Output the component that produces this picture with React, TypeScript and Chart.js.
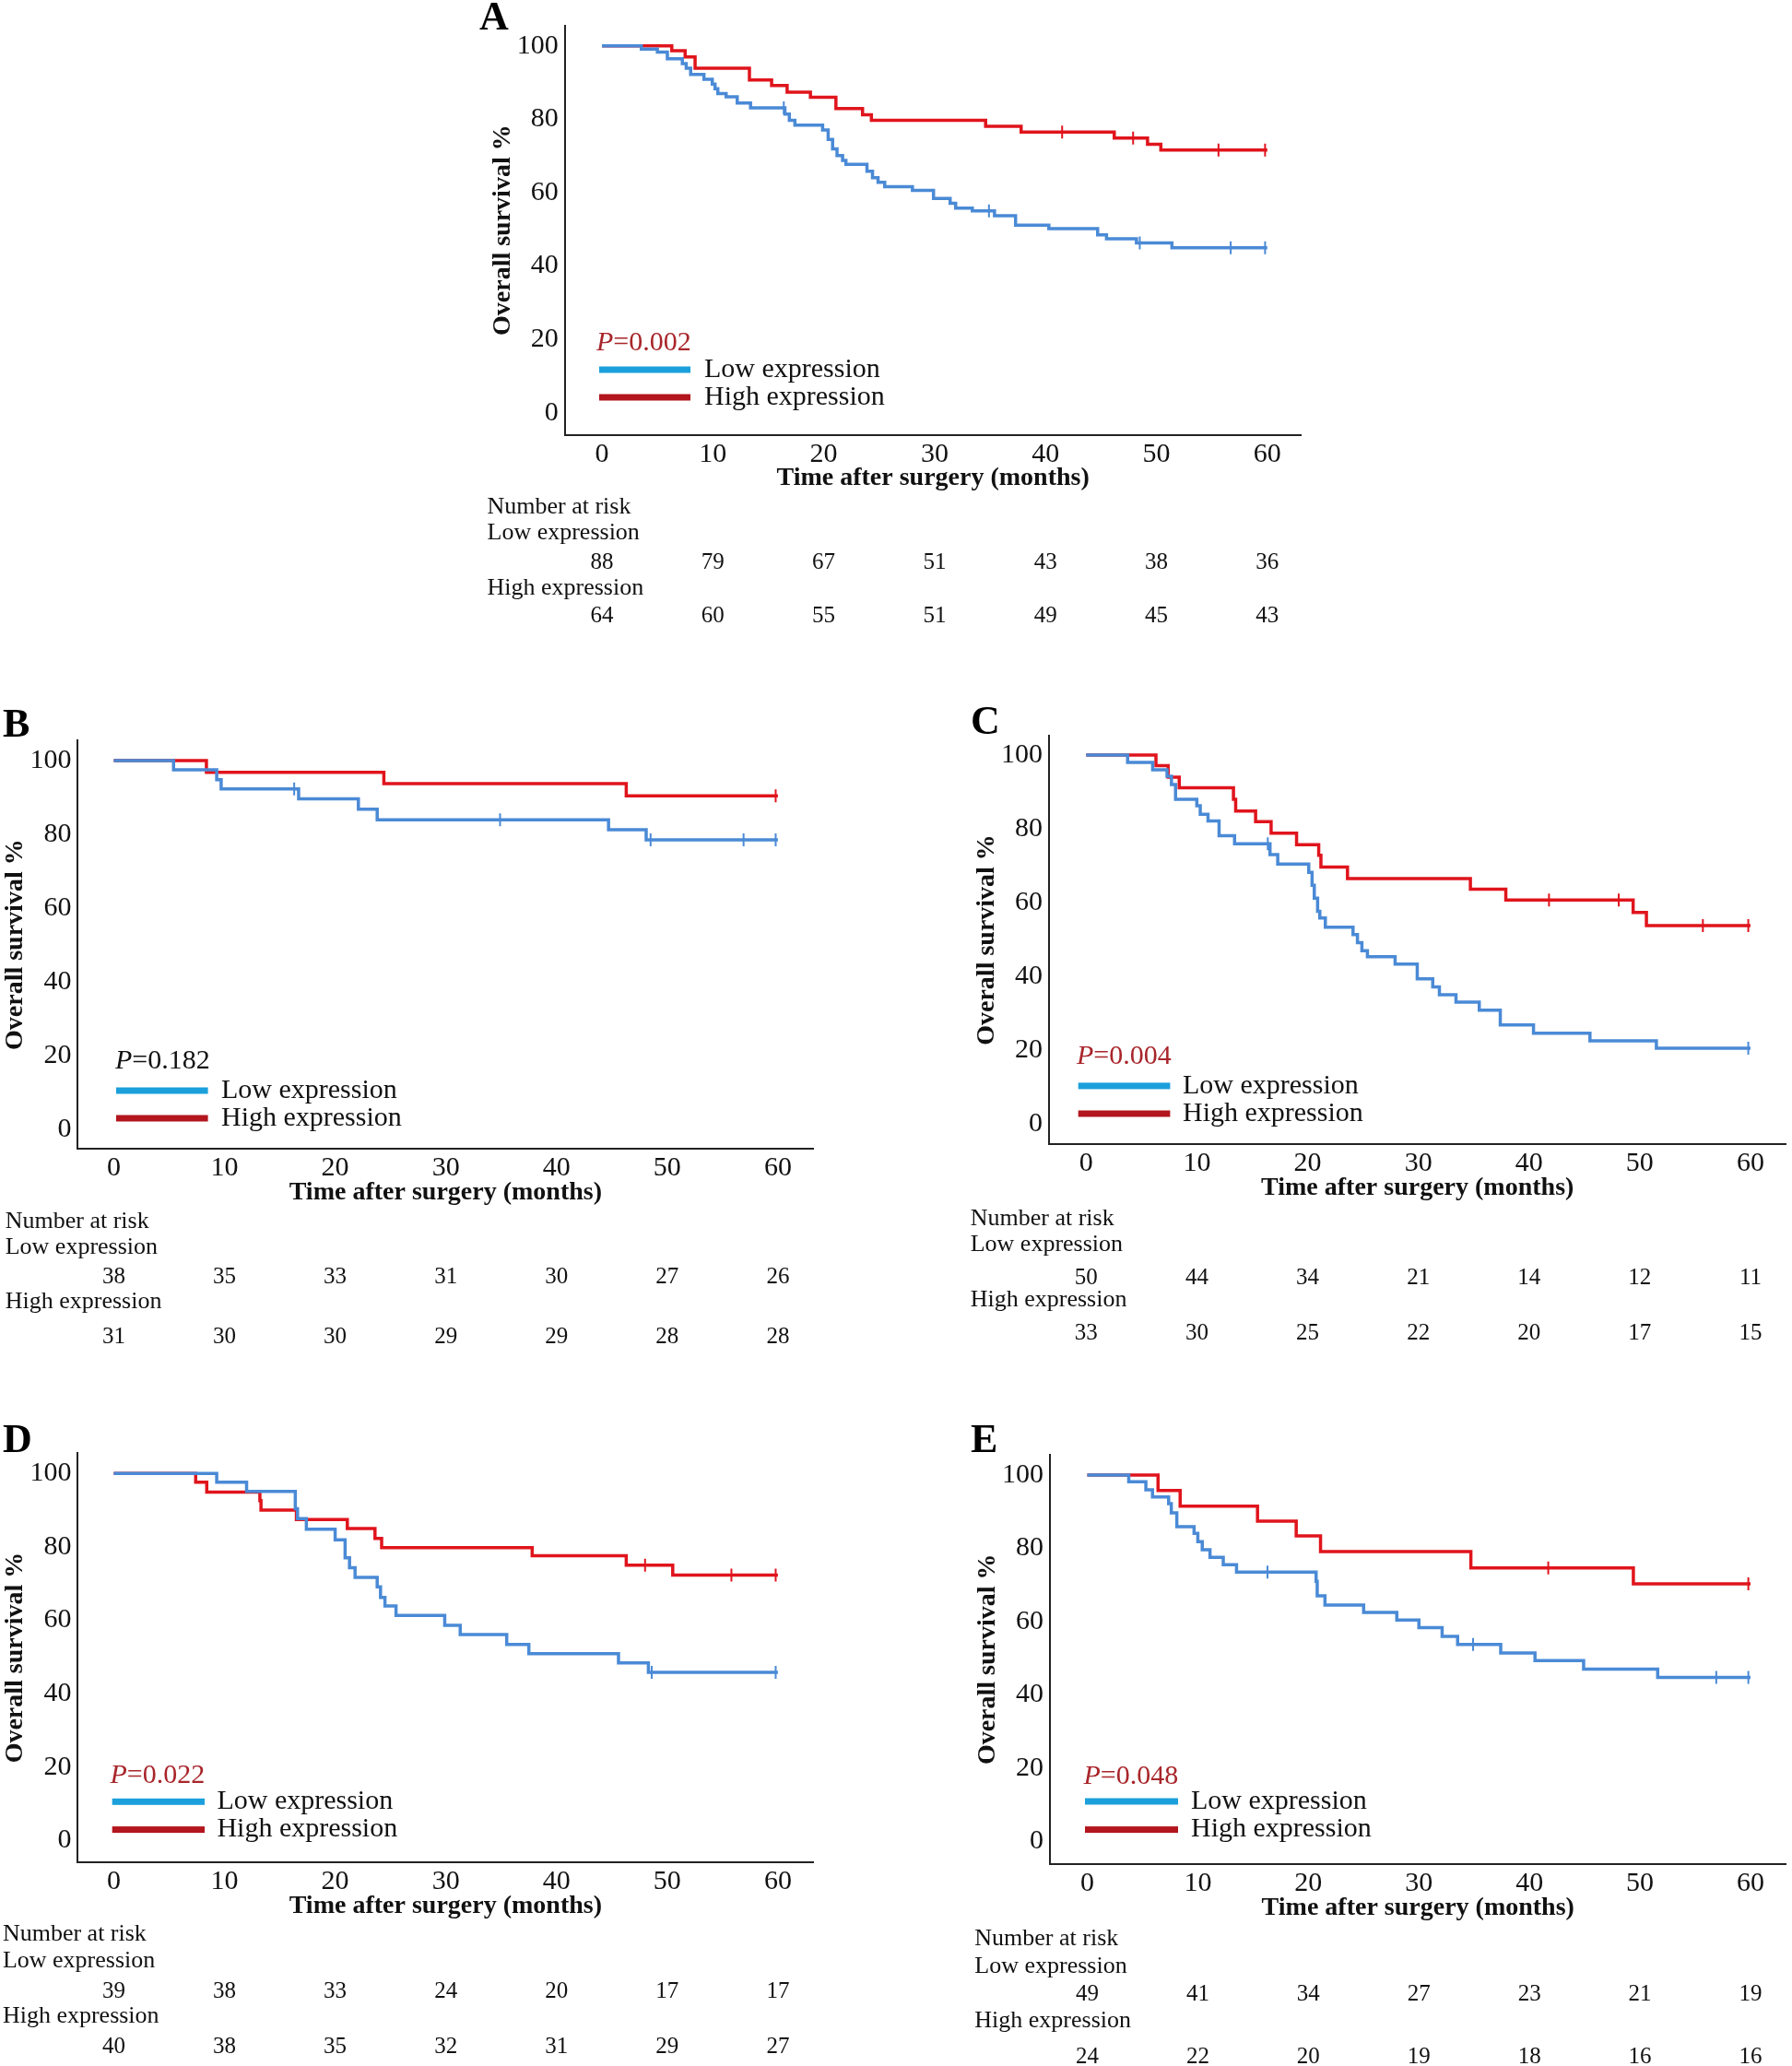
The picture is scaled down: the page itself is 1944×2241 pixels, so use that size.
import React, { useEffect, useRef } from "react";
import { Chart, registerables } from "chart.js";

Chart.register(...registerables);

type Pt = [number, number];

// ---------- shared axis values ----------
const X_TICKS = [0, 10, 20, 30, 40, 50, 60];
const Y_TICKS = [0, 20, 40, 60, 80, 100];
const SERIES_LABELS = ["Low expression", "High expression"];
const X_TITLE = "Time after surgery (months)";
const Y_TITLE = "Overall survival %";

// ---------- Panel A ----------
const A_LOW: Pt[] = [[0,100],[3.55,99.1],[5.0,98.3],[5.9,96.5],[7.25,95.2],[7.6,93.9],[8.0,92.2],[9.2,90.9],[9.95,89.6],[10.2,88.3],[10.45,87.0],[11.2,86.1],[12.2,84.4],[13.4,83.1],[16.5,81.4],[16.9,79.7],[17.4,78.4],[19.9,77.1],[20.4,74.5],[20.8,71.9],[21.2,70.1],[21.7,68.8],[22.0,67.7],[23.9,65.8],[24.4,64.1],[24.9,62.8],[25.5,61.6],[28.0,60.6],[29.9,58.4],[31.4,57.1],[31.9,55.8],[33.4,55.0],[35.4,53.7],[37.3,51.1],[40.3,50.2],[44.7,48.5],[45.5,47.4],[48.2,46.3],[51.4,45.0],[60,45.0]];
const A_LOW_CENSOR = [16.4, 34.9, 48.5, 56.7, 59.8];
const A_HIGH: Pt[] = [[0,100],[6.3,98.7],[7.5,97.0],[8.4,93.9],[13.3,90.7],[15.3,89.2],[16.7,87.4],[18.8,86.0],[21.1,82.9],[23.5,81.2],[24.3,79.7],[34.6,78.1],[37.8,76.5],[46.2,74.9],[49.2,73.2],[50.4,71.6],[60,71.6]];
const A_HIGH_CENSOR = [41.5, 47.9, 55.6, 59.8];
const A_RISK_LOW = [88, 79, 67, 51, 43, 38, 36];
const A_RISK_HIGH = [64, 60, 55, 51, 49, 45, 43];
const A_P = "0.002";

// ---------- Panel B ----------
const B_LOW: Pt[] = [[0,100],[5.4,97.5],[9.3,94.8],[9.7,92.3],[16.7,89.6],[22.1,86.8],[23.8,83.9],[44.7,81.25],[48.1,78.5],[60,78.5]];
const B_LOW_CENSOR = [16.3, 34.9, 48.5, 56.9, 59.8];
const B_HIGH: Pt[] = [[0,100],[8.37,96.8],[24.4,93.7],[46.3,90.4],[60,90.4]];
const B_HIGH_CENSOR = [59.8];
const B_RISK_LOW = [38, 35, 33, 31, 30, 27, 26];
const B_RISK_HIGH = [31, 30, 30, 29, 29, 28, 28];
const B_P = "0.182";

// ---------- Panel C ----------
const C_LOW: Pt[] = [[0,100],[3.74,98.0],[6.0,96.0],[7.3,94.2],[7.7,92.0],[8.07,88.0],[9.99,86.2],[10.3,83.9],[11.0,82.1],[12.0,78.1],[13.4,75.9],[16.6,73.0],[17.3,70.4],[20.1,68.2],[20.4,64.7],[20.6,61.2],[20.9,57.6],[21.1,55.8],[21.6,53.3],[24.1,51.3],[24.5,49.1],[24.9,46.9],[25.4,45.3],[27.9,43.3],[29.9,39.3],[31.3,37.1],[31.9,35.0],[33.4,33.0],[35.5,30.8],[37.4,26.8],[40.4,24.55],[45.5,22.5],[51.5,20.5],[60,20.5]];
const C_LOW_CENSOR = [16.4, 59.8];
const C_HIGH: Pt[] = [[0,100],[6.3,97.1],[7.4,94.0],[8.4,91.1],[13.3,88.0],[13.5,84.8],[15.3,81.9],[16.7,78.8],[19.0,75.7],[21.0,72.8],[21.2,69.6],[23.6,66.5],[34.7,63.6],[37.9,60.7],[49.4,57.3],[50.6,53.75],[60,53.75]];
const C_HIGH_CENSOR = [41.8, 48.1, 55.7, 59.8];
const C_RISK_LOW = [50, 44, 34, 21, 14, 12, 11];
const C_RISK_HIGH = [33, 30, 25, 22, 20, 17, 15];
const C_P = "0.004";

// ---------- Panel D ----------
const D_LOW: Pt[] = [[0,100],[9.3,97.6],[12.0,95.1],[16.4,90.4],[16.6,87.7],[17.4,84.8],[20.0,81.9],[20.9,77.0],[21.3,74.3],[21.8,71.7],[23.8,69.1],[24.1,66.2],[24.5,63.9],[25.5,61.3],[29.9,58.6],[31.3,56.1],[35.5,53.4],[37.5,50.9],[45.6,48.4],[48.3,45.8],[60,45.8]];
const D_LOW_CENSOR = [48.6, 59.8];
const D_HIGH: Pt[] = [[0,100],[7.4,97.6],[8.4,94.9],[13.2,92.6],[13.3,90.0],[16.5,87.4],[21.1,85.0],[23.6,82.3],[24.2,79.8],[37.8,77.6],[46.3,75.0],[50.5,72.3],[60,72.3]];
const D_HIGH_CENSOR = [48.0, 55.8, 59.8];
const D_RISK_LOW = [39, 38, 33, 24, 20, 17, 17];
const D_RISK_HIGH = [40, 38, 35, 32, 31, 29, 27];
const D_P = "0.022";

// ---------- Panel E ----------
const E_LOW: Pt[] = [[0,100],[3.75,98.2],[5.3,96.0],[5.9,94.0],[7.36,92.2],[7.6,89.7],[8.1,85.9],[9.66,84.1],[10.0,81.8],[10.4,79.6],[11.1,77.5],[12.3,75.5],[13.5,73.5],[20.7,71.0],[20.8,67.0],[21.5,64.5],[25.0,62.5],[28.0,60.4],[30.0,58.3],[32.1,55.9],[33.5,53.7],[37.4,51.4],[40.5,49.3],[44.9,47.0],[51.6,44.7],[60,44.7]];
const E_LOW_CENSOR = [16.3, 34.9, 56.9, 59.8];
const E_HIGH: Pt[] = [[0,100],[6.4,95.8],[8.4,91.5],[15.4,87.4],[18.9,83.4],[21.1,79.1],[34.7,74.6],[49.4,70.3],[60,70.3]];
const E_HIGH_CENSOR = [41.7, 59.8];
const E_RISK_LOW = [49, 41, 34, 27, 23, 21, 19];
const E_RISK_HIGH = [24, 22, 20, 19, 18, 16, 16];
const E_P = "0.048";

// ---------- styles ----------
const FONT = '"Liberation Serif", "Times New Roman", serif';
const CURVE_COLORS = ["#4A8AD6", "#E0141C"];
const SWATCH_COLORS = ["#1BA0DB", "#B3161E"];
const P_RED = "#A8262B";
const AXIS_COLOR = "#222222";
const Y_AXIS_W = 84;
const X_AXIS_H = 70;

// ---------- layout (page pixel coordinates) ----------
type Layout = {
  canvas: [number, number, number, number];
  plot: [number, number, number, number];
  xRange: [number, number];
  yRange: [number, number];
  letter: [number, number];
  p: [number, number];
  swatch: [number, number];
  legendY: [number, number];
  legendTextX: number;
  riskX: number;
  riskY: [number, number, number, number, number];
};

type PanelDef = {
  letter: string;
  low: Pt[];
  lowCensor: number[];
  high: Pt[];
  highCensor: number[];
  riskLow: number[];
  riskHigh: number[];
  p: string;
  pColor: string;
  layout: Layout;
};

const PANELS: PanelDef[] = [
  {
    letter: "A", low: A_LOW, lowCensor: A_LOW_CENSOR, high: A_HIGH, highCensor: A_HIGH_CENSOR,
    riskLow: A_RISK_LOW, riskHigh: A_RISK_HIGH, p: A_P, pColor: P_RED,
    layout: {
      canvas: [500, 0, 1440, 700], plot: [612.7, 27.5, 1411.6, 471.8],
      xRange: [-3.35, 63.06], yRange: [-6.06, 105.6],
      letter: [520, 32], p: [647, 372], swatch: [650, 749], legendY: [401, 431], legendTextX: 764,
      riskX: 528.5, riskY: [550, 578.3, 610, 638.3, 668.3],
    },
  },
  {
    letter: "B", low: B_LOW, lowCensor: B_LOW_CENSOR, high: B_HIGH, highCensor: B_HIGH_CENSOR,
    riskLow: B_RISK_LOW, riskHigh: B_RISK_HIGH, p: B_P, pColor: "#111111",
    layout: {
      canvas: [0, 755, 960, 1480], plot: [84.4, 802.9, 882.3, 1246.4],
      xRange: [-3.25, 63.2], yRange: [-5.35, 105.5],
      letter: [3, 799], p: [125, 1151], swatch: [126, 225.6], legendY: [1183, 1213], legendTextX: 240,
      riskX: 5.7, riskY: [1325, 1353.3, 1385, 1411.7, 1450],
    },
  },
  {
    letter: "C", low: C_LOW, lowCensor: C_LOW_CENSOR, high: C_HIGH, highCensor: C_HIGH_CENSOR,
    riskLow: C_RISK_LOW, riskHigh: C_RISK_HIGH, p: C_P, pColor: P_RED,
    layout: {
      canvas: [1040, 755, 1944, 1480], plot: [1138, 797.5, 1937.4, 1241.4],
      xRange: [-3.36, 63.2], yRange: [-5.6, 105.35],
      letter: [1053, 796], p: [1168, 1145.7], swatch: [1169.7, 1269.4], legendY: [1177.9, 1208], legendTextX: 1283,
      riskX: 1052.7, riskY: [1321.7, 1350, 1386.7, 1410, 1446.7],
    },
  },
  {
    letter: "D", low: D_LOW, lowCensor: D_LOW_CENSOR, high: D_HIGH, highCensor: D_HIGH_CENSOR,
    riskLow: D_RISK_LOW, riskHigh: D_RISK_HIGH, p: D_P, pColor: P_RED,
    layout: {
      canvas: [0, 1530, 960, 2241], plot: [84.4, 1575.7, 882.3, 2020.4],
      xRange: [-3.25, 63.2], yRange: [-6.03, 105.65],
      letter: [3, 1575], p: [119.4, 1925.7], swatch: [121.7, 222], legendY: [1954.3, 1984.6], legendTextX: 235.4,
      riskX: 2.9, riskY: [2098.3, 2126.7, 2160, 2186.7, 2220],
    },
  },
  {
    letter: "E", low: E_LOW, lowCensor: E_LOW_CENSOR, high: E_HIGH, highCensor: E_HIGH_CENSOR,
    riskLow: E_RISK_LOW, riskHigh: E_RISK_HIGH, p: E_P, pColor: P_RED,
    layout: {
      canvas: [1040, 1530, 1944, 2241], plot: [1139.1, 1577.5, 1937.4, 2022.1],
      xRange: [-3.37, 63.2], yRange: [-6.3, 105.67],
      letter: [1053, 1575], p: [1175.4, 1927.5], swatch: [1177, 1278], legendY: [1954, 1984.6], legendTextX: 1292,
      riskX: 1057.3, riskY: [2103.3, 2133.3, 2163.3, 2191.7, 2231.7],
    },
  },
];

function survAt(curve: Pt[], t: number): number {
  let v = curve[0][1];
  for (const [x, y] of curve) {
    if (x <= t) v = y;
    else break;
  }
  return v;
}

function makeOverlay(panel: PanelDef) {
  return {
    id: "kmOverlay" + panel.letter,
    afterDraw(chart: any) {
      const ctx: CanvasRenderingContext2D = chart.ctx;
      const L = panel.layout;
      const ox = L.canvas[0];
      const oy = L.canvas[1];
      const xs = chart.scales.x;
      ctx.save();
      // panel letter
      ctx.fillStyle = "#000";
      ctx.textAlign = "left";
      ctx.textBaseline = "alphabetic";
      ctx.font = `bold 44px ${FONT}`;
      ctx.fillText(panel.letter, L.letter[0] - ox, L.letter[1] - oy);

      // P value
      ctx.textBaseline = "middle";
      ctx.fillStyle = panel.pColor;
      ctx.font = `italic 30px ${FONT}`;
      let px = L.p[0] - ox;
      const py = L.p[1] - oy;
      ctx.fillText("P", px, py);
      px += ctx.measureText("P").width;
      ctx.font = `30px ${FONT}`;
      ctx.fillText("=" + panel.p, px, py);

      // legend
      for (let i = 0; i < 2; i++) {
        const y = L.legendY[i] - oy;
        ctx.fillStyle = SWATCH_COLORS[i];
        ctx.fillRect(L.swatch[0] - ox, y - 3.5, L.swatch[1] - L.swatch[0], 7);
        ctx.fillStyle = "#111";
        ctx.font = `30px ${FONT}`;
        ctx.fillText(SERIES_LABELS[i], L.legendTextX - ox, y);
      }

      // number at risk table
      ctx.font = `26px ${FONT}`;
      ctx.fillStyle = "#111";
      ctx.textAlign = "left";
      ctx.fillText("Number at risk", L.riskX - ox, L.riskY[0] - oy);
      ctx.fillText(SERIES_LABELS[0], L.riskX - ox, L.riskY[1] - oy);
      ctx.fillText(SERIES_LABELS[1], L.riskX - ox, L.riskY[3] - oy);
      ctx.font = `25px ${FONT}`;
      ctx.textAlign = "center";
      X_TICKS.forEach((t, i) => {
        const x = xs.getPixelForValue(t);
        ctx.fillText(String(panel.riskLow[i]), x, L.riskY[2] - oy);
        ctx.fillText(String(panel.riskHigh[i]), x, L.riskY[4] - oy);
      });
      ctx.restore();
    },
  };
}

function KMPanel({ panel }: { panel: PanelDef }) {
  const ref = useRef<HTMLCanvasElement | null>(null);
  const L = panel.layout;
  const cw = L.canvas[2] - L.canvas[0];
  const ch = L.canvas[3] - L.canvas[1];

  useEffect(() => {
    if (!ref.current) return;
    const padding = {
      left: L.plot[0] - Y_AXIS_W - L.canvas[0],
      top: L.plot[1] - L.canvas[1],
      right: L.canvas[2] - L.plot[2],
      bottom: L.canvas[3] - (L.plot[3] + X_AXIS_H),
    };
    const toXY = (c: Pt[]) => c.map(([x, y]) => ({ x, y }));
    const censorPts = (curve: Pt[], times: number[]) => times.map((t) => ({ x: t, y: survAt(curve, t) }));
    const lineDs = (label: string, curve: Pt[], color: string) => ({
      label,
      data: toXY(curve),
      borderColor: color,
      backgroundColor: color,
      borderWidth: 3.5,
      stepped: true,
      pointRadius: 0,
      fill: false,
      tension: 0,
    });
    const censorDs = (label: string, curve: Pt[], times: number[], color: string) => ({
      label,
      data: censorPts(curve, times),
      showLine: false,
      pointStyle: "line",
      pointRotation: 90,
      pointRadius: 7,
      pointBorderWidth: 2,
      pointBorderColor: color,
      borderColor: color,
      backgroundColor: color,
    });

    const chart = new Chart(ref.current, {
      type: "line",
      data: {
        datasets: [
          lineDs(SERIES_LABELS[0], panel.low, CURVE_COLORS[0]),
          lineDs(SERIES_LABELS[1], panel.high, CURVE_COLORS[1]),
          censorDs(SERIES_LABELS[0] + " censored", panel.low, panel.lowCensor, CURVE_COLORS[0]),
          censorDs(SERIES_LABELS[1] + " censored", panel.high, panel.highCensor, CURVE_COLORS[1]),
        ] as any,
      },
      options: {
        animation: false,
        responsive: false,
        maintainAspectRatio: false,
        devicePixelRatio: 1,
        events: [],
        layout: { autoPadding: false, padding },
        plugins: { legend: { display: false }, tooltip: { enabled: false }, title: { display: false } },
        scales: {
          x: {
            type: "linear",
            min: L.xRange[0],
            max: L.xRange[1],
            afterBuildTicks: (s: any) => { s.ticks = X_TICKS.map((v) => ({ value: v })); },
            afterFit: (s: any) => { s.height = X_AXIS_H; },
            grid: { display: false, drawTicks: false },
            border: { display: true, color: AXIS_COLOR, width: 2 },
            ticks: { padding: 3, color: "#111", autoSkip: false, maxRotation: 0, font: { family: FONT, size: 30, lineHeight: 1.2 } },
            title: {
              display: true, text: X_TITLE, color: "#111",
              font: { family: FONT, size: 28, weight: "bold", lineHeight: 1.2 },
              padding: { top: 0, bottom: 6 },
            },
          },
          y: {
            type: "linear",
            min: L.yRange[0],
            max: L.yRange[1],
            afterBuildTicks: (s: any) => { s.ticks = Y_TICKS.map((v) => ({ value: v })); },
            afterFit: (s: any) => { s.width = Y_AXIS_W; },
            grid: { display: false, drawTicks: false },
            border: { display: true, color: AXIS_COLOR, width: 2 },
            ticks: { padding: 7, color: "#111", font: { family: FONT, size: 30, lineHeight: 1.2 } },
            title: {
              display: true, text: Y_TITLE, color: "#111",
              font: { family: FONT, size: 28, weight: "bold", lineHeight: 1.2 },
              padding: { top: 0, bottom: 0 },
            },
          },
        },
      } as any,
      plugins: [makeOverlay(panel)],
    });
    return () => chart.destroy();
  }, [panel]);

  return (
    <canvas
      ref={ref}
      width={cw}
      height={ch}
      style={{ position: "absolute", left: L.canvas[0], top: L.canvas[1], width: cw, height: ch }}
    />
  );
}

export default function App() {
  return (
    <div style={{ position: "absolute", left: 0, top: 0, width: 1944, height: 2241, background: "#ffffff", overflow: "hidden" }}>
      {PANELS.map((p) => (
        <KMPanel key={p.letter} panel={p} />
      ))}
    </div>
  );
}
